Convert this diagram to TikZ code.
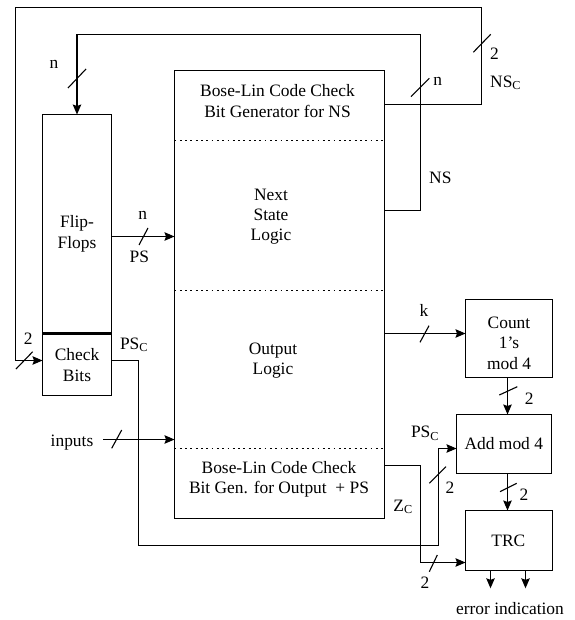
\documentclass[tikz,border=0pt]{standalone}
\usepackage{fontspec}
\setmainfont{Liberation Serif}
\usetikzlibrary{arrows.meta,calc}
\tikzset{
  box/.style={draw, line width=1.1pt, inner sep=0pt, outer sep=0pt, anchor=north west},
  arr/.style={line width=1.1pt, -{Stealth[length=10pt,width=8.5pt,inset=1.5pt]}},
  dotsep/.style={line width=1.8pt, dash pattern=on 1.8pt off 3.5pt},
  lbl/.style={inner sep=0pt, font=\fontsize{17.4}{20}\selectfont},
  txt/.style={inner sep=0pt, align=center, font=\fontsize{17.4}{20.3}\selectfont},
  slash/.style={line width=1.1pt}
}
\begin{document}
\begin{tikzpicture}[x=1pt,y=-1pt]
\useasboundingbox (0,0) rectangle (574,620);
% boxes
\node[box, minimum width=210pt, minimum height=448pt] (main) at (174.5,70.5) {};
\node[box, minimum width=69pt, minimum height=219pt] (ff) at (42.5,114.5) {};
\node[box, minimum width=69pt, minimum height=62pt] (cb) at (42.5,333.5) {};
\node[box, minimum width=87pt, minimum height=78pt] (count) at (465.5,299.5) {};
\node[box, minimum width=95pt, minimum height=59pt] (add) at (456.5,414.5) {};
\node[box, minimum width=87pt, minimum height=60pt] (trc) at (465.5,510.5) {};
\draw[line width=2.4pt] (cb.north west) -- (cb.north east);
% dotted separators
\draw[dotsep] (main.west |- 0,140.5) -- (main.east |- 0,140.5);
\draw[dotsep] (main.west |- 0,290.5) -- (main.east |- 0,290.5);
\draw[dotsep] (main.west |- 0,448.5) -- (main.east |- 0,448.5);
% texts in boxes
\node[txt] (t1) at (277.5,101) {Bose-Lin Code Check\\Bit Generator for NS};
\node[txt] (t2) at (271,216.7) {Next\\State\\Logic};
\node[txt] (t3) at (273,360.5) {Output\\Logic};
\node[txt] (t4) at (279,479) {Bose-Lin Code Check\\Bit Gen. for Output\ \ + PS};
\node[txt] (tff) at (77,233.7) {Flip-\\Flops};
\node[txt] (tcb) at (77,365) {Check\\Bits};
\node[txt] (tcount) at (509,343.3) {Count\\1’s\\mod 4};
\node[txt] (tadd) at (503.8,443.7) {Add mod 4};
\node[txt] (ttrc) at (508.3,540.7) {TRC};
% outer loop (NSc)
\draw[arr] (main.east |- 0,104.5) -- (481.5,104.5) -- (481.5,7.5) -- (15.5,7.5) -- (15.5,360.5) -- (cb.west |- 0,360.5);
% inner loop (NS)
\draw[arr] (main.east |- 0,210.5) -- (420.5,210.5) -- (420.5,34.5) -- (77,34.5) -- (ff.north);
% PS
\draw[arr] (ff.east |- 0,236.5) -- (main.west |- 0,236.5);
% k
\draw[arr] (main.east |- 0,333.5) -- (count.west |- 0,333.5);
% inputs
\node[lbl] (inputs) at (72,442.7) {inputs};
\draw[arr] (103,439.5) -- (main.west |- 0,439.5);
% PSc
\draw[arr] (cb.east |- 0,360.5) -- (138.5,360.5) -- (138.5,545.5) -- (438.5,545.5) -- (438.5,448.5) -- (add.west |- 0,448.5);
% Zc
\draw[arr] (main.east |- 0,465.5) -- (420.5,465.5) -- (420.5,562.5) -- (trc.west |- 0,562.5);
% count -> add -> trc
\draw[arr] (507.5,377.5) -- (507.5,414.5);
\draw[arr] (507.5,473.5) -- (507.5,510.5);
% outputs
\coordinate (o1) at (490.5,588.3);
\coordinate (o2) at (525.5,588.3);
\draw[arr] (o1 |- trc.south) -- (o1);
\draw[arr] (o2 |- trc.south) -- (o2);
\node[lbl] (err) at (510,609) {error indication};
% slashes
\draw[slash] (68,88) -- (86,69);
\draw[slash] (473.3,52.3) -- (490.7,34.3);
\draw[slash] (411,96.7) -- (429.3,78.3);
\draw[slash] (139,245) -- (148,228);
\draw[slash] (420,342.3) -- (429,325.7);
\draw[slash] (499.3,395) -- (517.3,386.7);
\draw[slash] (16,369) -- (32.7,351.7);
\draw[slash] (111.7,448.3) -- (121.7,430);
\draw[slash] (429.3,483.3) -- (446,466.7);
\draw[slash] (429.3,571.7) -- (437.3,555);
\draw[slash] (500,491.7) -- (516.7,483.3);
% labels
\node[lbl] (ln1) at (54,64) {n};
\node[lbl, anchor=west] (l2a) at (490,54) {2};
\node[lbl, anchor=west] (lnsc) at (490,83) {NS\textsubscript{C}};
\node[lbl] (ln2) at (437.7,81.7) {n};
\node[lbl, anchor=west] (lns) at (429,178.3) {NS};
\node[lbl] (ln3) at (142.7,215) {n};
\node[lbl] (lps) at (139.3,257.3) {PS};
\node[lbl] (l2b) at (28.3,338.3) {2};
\node[lbl] (lpsc1) at (134,345) {PS\textsubscript{C}};
\node[lbl] (lk) at (424,310.7) {k};
\node[lbl] (l2c) at (529.3,398.3) {2};
\node[lbl] (lpsc2) at (425,433) {PS\textsubscript{C}};
\node[lbl] (l2d) at (450,487.3) {2};
\node[lbl] (l2e) at (524,495) {2};
\node[lbl] (lzc) at (403,506.7) {Z\textsubscript{C}};
\node[lbl] (l2f) at (425,582.7) {2};
\end{tikzpicture}
\end{document}
